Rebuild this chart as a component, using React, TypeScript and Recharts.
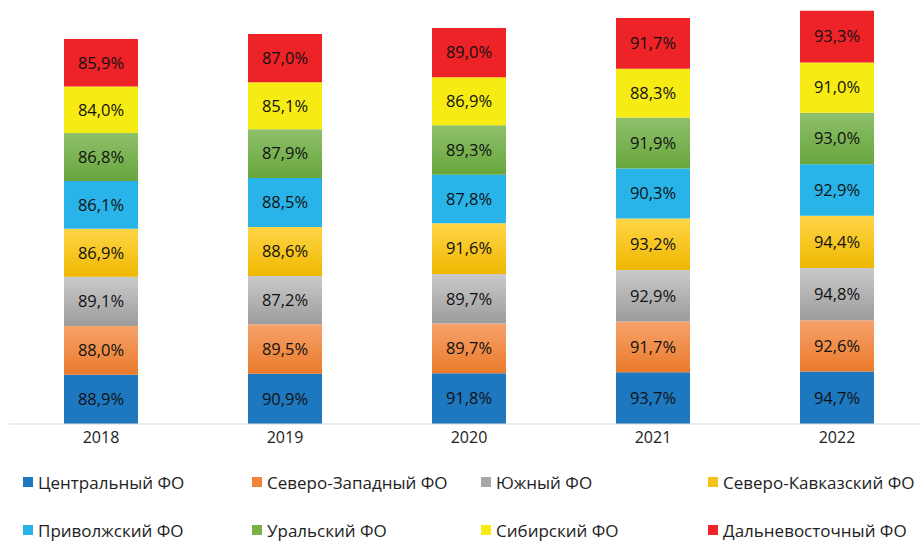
import { BarChart, Bar, XAxis, YAxis, LabelList } from "recharts";

const years = ["2018", "2019", "2020", "2021", "2022"];
const central = [88.9, 90.9, 91.8, 93.7, 94.7];
const northWest = [88.0, 89.5, 89.7, 91.7, 92.6];
const south = [89.1, 87.2, 89.7, 92.9, 94.8];
const northCaucasus = [86.9, 88.6, 91.6, 93.2, 94.4];
const volga = [86.1, 88.5, 87.8, 90.3, 92.9];
const ural = [86.8, 87.9, 89.3, 91.9, 93.0];
const siberia = [84.0, 85.1, 86.9, 88.3, 91.0];
const farEast = [85.9, 87.0, 89.0, 91.7, 93.3];

const series = [
  { key: "c", name: "Центральный ФО", values: central, fill: "#1E78C0", swatch: "#1E78C0" },
  { key: "nw", name: "Северо-Западный ФО", values: northWest, fill: "url(#gOrange)", swatch: "#F0843A" },
  { key: "s", name: "Южный ФО", values: south, fill: "url(#gGray)", swatch: "#A8A8A8" },
  { key: "nc", name: "Северо-Кавказский ФО", values: northCaucasus, fill: "url(#gGold)", swatch: "#F6C21A" },
  { key: "v", name: "Приволжский ФО", values: volga, fill: "#29B4E9", swatch: "#29B4E9" },
  { key: "u", name: "Уральский ФО", values: ural, fill: "url(#gGreen)", swatch: "#76B14A" },
  { key: "sb", name: "Сибирский ФО", values: siberia, fill: "#F6EC13", swatch: "#F6EC13" },
  { key: "fe", name: "Дальневосточный ФО", values: farEast, fill: "#EE2328", swatch: "#EE2328" },
];

const data = years.map((year, i) => {
  const row: Record<string, string | number> = { year };
  series.forEach((s) => {
    row[s.key] = s.values[i];
  });
  return row;
});

const FONT = "'Open Sans', sans-serif";
const fmt = (v: any) => `${Number(v).toFixed(1).replace(".", ",")}%`;

const legendCols = [23, 252, 481, 708];
const legendRows = [482, 530];

export default function App() {
  return (
    <div style={{ position: "absolute", left: 0, top: 0, width: 921, height: 543, overflow: "hidden", background: "#fff", fontFamily: FONT }}>
      <BarChart
        width={930}
        height={455}
        data={data}
        margin={{ top: 9, right: 1, left: 9, bottom: 0 }}
      >
        <defs>
          <linearGradient id="gOrange" x1="0" y1="0" x2="0" y2="1">
            <stop offset="0%" stopColor="#F6A26B" />
            <stop offset="100%" stopColor="#EA7A2B" />
          </linearGradient>
          <linearGradient id="gGray" x1="0" y1="0" x2="0" y2="1">
            <stop offset="0%" stopColor="#CACACA" />
            <stop offset="100%" stopColor="#9C9C9C" />
          </linearGradient>
          <linearGradient id="gGold" x1="0" y1="0" x2="0" y2="1">
            <stop offset="0%" stopColor="#FFD548" />
            <stop offset="100%" stopColor="#EFB800" />
          </linearGradient>
          <linearGradient id="gGreen" x1="0" y1="0" x2="0" y2="1">
            <stop offset="0%" stopColor="#8EC06C" />
            <stop offset="100%" stopColor="#68A63C" />
          </linearGradient>
        </defs>
        <XAxis
          dataKey="year"
          height={31}
          tickLine={false}
          axisLine={{ stroke: "#D9D9D9" }}
          tick={{ fontSize: 16, fill: "#222", fontFamily: FONT }}
        />
        <YAxis hide domain={[0, 750]} />
        {series.map((s) => (
          <Bar key={s.key} dataKey={s.key} name={s.name} stackId="a" fill={s.fill} barSize={74} isAnimationActive={false}>
            <LabelList dataKey={s.key} position="center" formatter={fmt} style={{ fontSize: 16.5, fill: "#111", fontFamily: FONT }} />
          </Bar>
        ))}
      </BarChart>
      {series.map((s, i) => (
        <div
          key={s.key}
          style={{
            position: "absolute",
            left: legendCols[i % 4],
            top: legendRows[Math.floor(i / 4)] - 12,
            height: 24,
            display: "flex",
            alignItems: "center",
            fontSize: 17,
            color: "#222",
            whiteSpace: "nowrap",
          }}
        >
          <span style={{ display: "inline-block", width: 10, height: 10, background: s.swatch, marginRight: 5 }} />
          {s.name}
        </div>
      ))}
    </div>
  );
}
